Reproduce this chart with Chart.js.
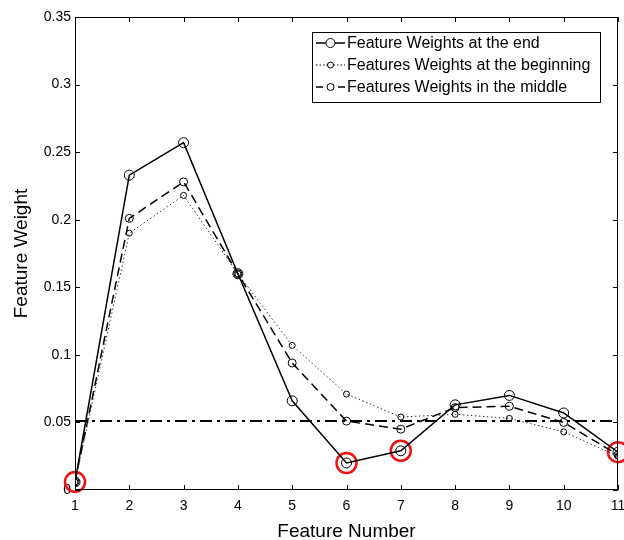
<!DOCTYPE html>
<html>
<head>
<meta charset="utf-8">
<script src="https://cdn.jsdelivr.net/npm/chart.js@4.4.1/dist/chart.umd.min.js"></script>
<style>
  html, body { margin: 0; padding: 0; background: #fff; }
  #wrap { width: 624px; height: 540px; position: relative; }
</style>
</head>
<body>
<div id="wrap"><canvas id="weightChart" width="624" height="540"></canvas></div>
<script>
const featureNumbers = [1, 2, 3, 4, 5, 6, 7, 8, 9, 10, 11];
const weightsEnd = [0.006, 0.233, 0.257, 0.160, 0.066, 0.020, 0.029, 0.063, 0.070, 0.057, 0.028];
const weightsBeginning = [0.006, 0.190, 0.218, 0.160, 0.107, 0.071, 0.054, 0.056, 0.053, 0.043, 0.025];
const weightsMiddle = [0.006, 0.201, 0.228, 0.160, 0.094, 0.051, 0.045, 0.061, 0.062, 0.050, 0.026];
const thresholdWeight = 0.051;
const highlightedFeatures = [1, 6, 7, 11];
const legendLabels = [
  "Feature Weights at the end",
  "Features Weights at the beginning",
  "Features Weights in the middle",
];

const FONT = "'Liberation Sans', Arial, sans-serif";

const toPoints = (values) => featureNumbers.map((x, i) => ({ x, y: values[i] }));

// box around the axes plus inward ticks on all four sides (matlab look)
const frameTicks = {
  id: "frameTicks",
  afterDraw(chart) {
    const { ctx, chartArea: a, scales } = chart;
    const len = 5;
    ctx.save();
    ctx.strokeStyle = "#000";
    ctx.lineWidth = 1;
    ctx.strokeRect(a.left + 0.5, a.top + 0.5, a.right - a.left - 1, a.bottom - a.top - 1);
    ctx.beginPath();
    scales.x.ticks.forEach((t) => {
      const px = Math.round(scales.x.getPixelForValue(t.value)) + 0.5;
      ctx.moveTo(px, a.bottom); ctx.lineTo(px, a.bottom - len);
      ctx.moveTo(px, a.top); ctx.lineTo(px, a.top + len);
    });
    scales.y.ticks.forEach((t) => {
      const py = Math.round(scales.y.getPixelForValue(t.value)) + 0.5;
      ctx.moveTo(a.left, py); ctx.lineTo(a.left + len, py);
      ctx.moveTo(a.right, py); ctx.lineTo(a.right - len, py);
    });
    ctx.stroke();
    ctx.restore();
  },
};

// legend drawn as a boxed list with line + marker samples
const boxLegend = {
  id: "boxLegend",
  afterDraw(chart) {
    const { ctx } = chart;
    const box = { x: 312, y: 32, w: 288, h: 70 };
    const styles = [
      { dash: [], width: 1.5, r: 4.5 },
      { dash: [1.5, 2], width: 1, r: 3 },
      { dash: [7, 4], width: 1.5, r: 3.5 },
    ];
    ctx.save();
    ctx.fillStyle = "#fff";
    ctx.fillRect(box.x, box.y, box.w, box.h);
    ctx.strokeStyle = "#000";
    ctx.lineWidth = 1;
    ctx.strokeRect(box.x + 0.5, box.y + 0.5, box.w, box.h);
    ctx.font = `16px ${FONT}`;
    ctx.textBaseline = "middle";
    legendLabels.forEach((label, i) => {
      const cy = box.y + 11 + i * 22;
      const s = styles[i];
      ctx.setLineDash(s.dash);
      ctx.lineWidth = s.width;
      ctx.beginPath();
      ctx.moveTo(box.x + 4, cy);
      ctx.lineTo(box.x + 33, cy);
      ctx.stroke();
      ctx.setLineDash([]);
      ctx.lineWidth = 1;
      ctx.beginPath();
      ctx.arc(box.x + 18.5, cy, s.r, 0, Math.PI * 2);
      ctx.fillStyle = "#fff";
      ctx.fill();
      ctx.stroke();
      ctx.fillStyle = "#000";
      ctx.fillText(label, box.x + 35, cy + 1);
    });
    ctx.restore();
  },
};

new Chart(document.getElementById("weightChart"), {
  type: "line",
  data: {
    datasets: [
      {
        label: "threshold",
        data: [{ x: 1, y: thresholdWeight }, { x: 11, y: thresholdWeight }],
        borderColor: "#000",
        borderWidth: 2,
        borderDash: [12, 5, 3, 5],
        pointRadius: 0,
      },
      {
        label: legendLabels[1],
        data: toPoints(weightsBeginning),
        borderColor: "#333",
        borderWidth: 1,
        borderDash: [1.5, 2.5],
        pointRadius: 3,
        pointBorderWidth: 1,
        pointBorderColor: "#000",
        pointBackgroundColor: "rgba(0,0,0,0)",
      },
      {
        label: legendLabels[2],
        data: toPoints(weightsMiddle),
        borderColor: "#000",
        borderWidth: 1.5,
        borderDash: [9, 5],
        pointRadius: 4,
        pointBorderWidth: 1,
        pointBorderColor: "#000",
        pointBackgroundColor: "rgba(0,0,0,0)",
      },
      {
        label: legendLabels[0],
        data: toPoints(weightsEnd),
        borderColor: "#000",
        borderWidth: 1.5,
        pointRadius: 5,
        pointBorderWidth: 1,
        pointBorderColor: "#000",
        pointBackgroundColor: "rgba(0,0,0,0)",
      },
      {
        label: "highlighted",
        data: highlightedFeatures.map((f) => ({ x: f, y: weightsEnd[f - 1] })),
        showLine: false,
        pointRadius: 10,
        pointBorderWidth: 2.5,
        pointBorderColor: "#ee1111",
        pointBackgroundColor: "rgba(0,0,0,0)",
        clip: false,
      },
    ],
  },
  options: {
    responsive: false,
    animation: false,
    tension: 0,
    layout: { autoPadding: false, padding: { top: 17, right: 6, left: 0, bottom: 0 } },
    plugins: {
      legend: { display: false },
      tooltip: { enabled: false },
    },
    scales: {
      x: {
        type: "linear",
        min: 1,
        max: 11,
        afterFit: (s) => { s.height = 50; s.paddingRight = 0; s.paddingLeft = 0; },
        grid: { display: false, drawTicks: false },
        border: { display: false },
        ticks: { stepSize: 1, color: "#000", padding: 8, font: { family: FONT, size: 14 } },
        title: {
          display: true,
          text: "Feature Number",
          color: "#000",
          font: { family: FONT, size: 19 },
          padding: { top: 0, bottom: -3 },
        },
      },
      y: {
        min: 0,
        max: 0.35,
        afterFit: (s) => { s.width = 75; s.paddingTop = 0; s.paddingBottom = 0; },
        grid: { display: false, drawTicks: false },
        border: { display: false },
        ticks: {
          stepSize: 0.05,
          color: "#000",
          padding: 4,
          font: { family: FONT, size: 14 },
          callback: (v) => String(+v.toFixed(2)),
        },
        title: {
          display: true,
          text: "Feature Weight",
          color: "#000",
          font: { family: FONT, size: 19 },
          padding: { top: 10, bottom: 0 },
        },
      },
    },
  },
  plugins: [frameTicks, boxLegend],
});
</script>
</body>
</html>
